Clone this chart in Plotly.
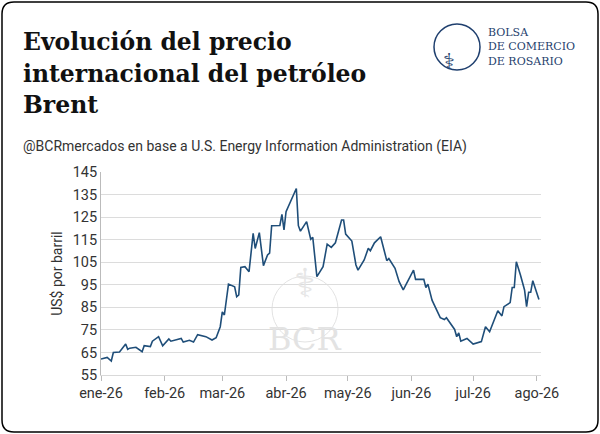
import plotly.graph_objects as go

# Brent daily price (US$/bbl)
fechas = [
    "2026-01-01", "2026-01-04", "2026-01-06", "2026-01-07", "2026-01-10", "2026-01-13", "2026-01-14",
    "2026-01-15", "2026-01-18", "2026-01-21", "2026-01-22", "2026-01-25", "2026-01-26", "2026-01-29",
    "2026-01-31", "2026-02-03", "2026-02-04", "2026-02-09", "2026-02-10", "2026-02-13", "2026-02-15",
    "2026-02-17", "2026-02-21", "2026-02-24", "2026-02-26", "2026-02-28", "2026-03-01", "2026-03-02",
    "2026-03-04", "2026-03-07", "2026-03-08", "2026-03-09", "2026-03-10", "2026-03-12", "2026-03-14",
    "2026-03-16", "2026-03-17", "2026-03-19", "2026-03-21", "2026-03-23", "2026-03-24", "2026-03-25",
    "2026-03-29", "2026-03-30", "2026-03-31", "2026-04-01", "2026-04-06", "2026-04-07", "2026-04-08",
    "2026-04-11", "2026-04-13", "2026-04-14", "2026-04-16", "2026-04-19", "2026-04-21", "2026-04-23",
    "2026-04-25", "2026-04-28", "2026-04-29", "2026-04-30", "2026-05-03", "2026-05-05", "2026-05-06",
    "2026-05-09", "2026-05-11", "2026-05-12", "2026-05-14", "2026-05-17", "2026-05-20", "2026-05-21",
    "2026-05-24", "2026-05-26", "2026-05-28", "2026-05-31", "2026-06-02", "2026-06-03", "2026-06-07",
    "2026-06-08", "2026-06-09", "2026-06-11", "2026-06-13", "2026-06-15", "2026-06-17", "2026-06-18",
    "2026-06-22", "2026-06-23", "2026-06-24", "2026-06-25", "2026-06-28", "2026-07-01", "2026-07-05",
    "2026-07-07", "2026-07-09", "2026-07-13", "2026-07-15", "2026-07-16", "2026-07-19", "2026-07-20",
    "2026-07-21", "2026-07-22", "2026-07-24", "2026-07-26", "2026-07-27", "2026-07-28", "2026-07-29",
    "2026-07-30", "2026-08-02",
]
precios = [
    62.1, 62.8, 61.2, 65.0, 65.2, 68.7, 66.4,
    66.9, 67.3, 65.3, 68.0, 67.6, 70.0, 72.0,
    67.9, 71.0, 70.0, 71.2, 69.6, 70.4, 69.6,
    72.9, 72.0, 70.5, 71.5, 76.4, 83.0, 81.6,
    95.3, 94.1, 89.7, 90.5, 102.7, 103.0, 100.8,
    117.8, 111.1, 118.1, 103.5, 108.2, 109.0, 121.2,
    121.3, 126.2, 119.3, 127.4, 137.7, 121.2, 118.8,
    123.0, 115.2, 116.0, 98.6, 103.0, 113.0, 111.6,
    113.6, 123.7, 123.7, 117.5, 114.4, 103.8, 101.5,
    106.0, 111.2, 110.1, 113.6, 116.3, 105.7, 106.6,
    102.3, 96.4, 92.7, 97.9, 101.5, 97.4, 97.4,
    93.8, 95.3, 88.2, 84.5, 80.4, 79.6, 80.4,
    75.2, 72.0, 73.7, 70.0, 71.2, 68.7, 69.8,
    76.4, 74.2, 83.5, 81.2, 85.3, 87.1, 93.8,
    93.8, 105.2, 99.3, 92.7, 85.3, 91.7, 91.7,
    96.8, 88.5,
]
tick_fechas = ["2026-01-01", "2026-02-01", "2026-03-01", "2026-04-01", "2026-05-01",
               "2026-06-01", "2026-07-01", "2026-08-01"]
tick_textos = ["ene-26", "feb-26", "mar-26", "abr-26", "may-26", "jun-26", "jul-26", "ago-26"]
y_ticks = [55, 65, 75, 85, 95, 105, 115, 125, 135, 145]
titulo = ["Evolución del precio", "internacional del petróleo", "Brent"]

W, H = 600, 434
L, R, T, B = 101, 59, 172, 59
PW, PH = W - L - R, H - T - B


def px(x):
    return (x - L) / PW


def py(y):
    return (H - B - y) / PH


fig = go.Figure()
fig.add_trace(go.Scatter(x=fechas, y=precios, mode="lines",
                         line=dict(color="#1f4e79", width=1.6), hoverinfo="x+y"))

# rounded card border
r = 12
x0, x1, y0, y1 = 2, 598, 2, 432
path = (f"M {px(x0 + r)},{py(y0)} L {px(x1 - r)},{py(y0)} Q {px(x1)},{py(y0)} {px(x1)},{py(y0 + r)} "
        f"L {px(x1)},{py(y1 - r)} Q {px(x1)},{py(y1)} {px(x1 - r)},{py(y1)} "
        f"L {px(x0 + r)},{py(y1)} Q {px(x0)},{py(y1)} {px(x0)},{py(y1 - r)} "
        f"L {px(x0)},{py(y0 + r)} Q {px(x0)},{py(y0)} {px(x0 + r)},{py(y0)} Z")
shapes = [
    dict(type="path", xref="paper", yref="paper", path=path, line=dict(color="black", width=1.5)),
    # logo circle
    dict(type="circle", xref="paper", yref="paper", x0=px(434), x1=px(480), y0=py(70), y1=py(24),
         line=dict(color="#1f3f6e", width=1.5)),
    # watermark circle
    dict(type="circle", xref="paper", yref="paper", x0=px(272), x1=px(338), y0=py(342), y1=py(276),
         line=dict(color="#e3e3e3", width=1), layer="below"),
]


def nota(text, x, y, **kw):
    d = dict(text=text, x=px(x), y=py(y), xref="paper", yref="paper", showarrow=False)
    d.update(kw)
    return d


annotations = [
    nota(f"<b>{t}</b>", 21, yy, xanchor="left", yanchor="middle",
         font=dict(family="DejaVu Serif", size=23.5, color="#111"))
    for t, yy in zip(titulo, [42, 74, 105])
] + [
    nota("@BCRmercados en base a U.S. Energy Information Administration (EIA)", 21, 146,
         xanchor="left", yanchor="middle", font=dict(family="Roboto", size=14, color="#333")),
    nota("BOLSA<br>DE COMERCIO<br>DE ROSARIO", 486, 47, xanchor="left", yanchor="middle", align="left",
         font=dict(family="DejaVu Serif", size=11, color="#1f3f6e")),
    nota("⚕", 457, 47, font=dict(size=22, color="#1f3f6e")),
    nota("⚕", 305, 309, font=dict(size=40, color="#e6e6e6")),
    nota("BCR", 305, 360, font=dict(family="DejaVu Serif", size=32, color="#e3e3e3")),
]

fig.update_layout(
    width=W, height=H, margin=dict(l=L, r=R, t=T, b=B, autoexpand=False),
    paper_bgcolor="white", plot_bgcolor="white", showlegend=False,
    font=dict(family="Roboto", color="#333"),
    shapes=shapes, annotations=annotations,
    xaxis=dict(range=["2026-01-01", "2026-08-03"], tickvals=tick_fechas, ticktext=tick_textos,
               ticks="outside", ticklen=5, tickcolor="#bbb", showgrid=False, automargin=False,
               showline=True, linecolor="#d9d9d9", tickfont=dict(size=14.5)),
    yaxis=dict(range=[55, 145], tickvals=y_ticks, showgrid=True, gridcolor="#dcdcdc", automargin=False,
               showline=True, linecolor="#bbb", zeroline=False, tickfont=dict(size=14.5),
               title=dict(text="US$ por barril", font=dict(size=14), standoff=6)),
)

fig.write_html("out.html", config={"displayModeBar": False},
               post_script="document.body.style.margin='0';")
